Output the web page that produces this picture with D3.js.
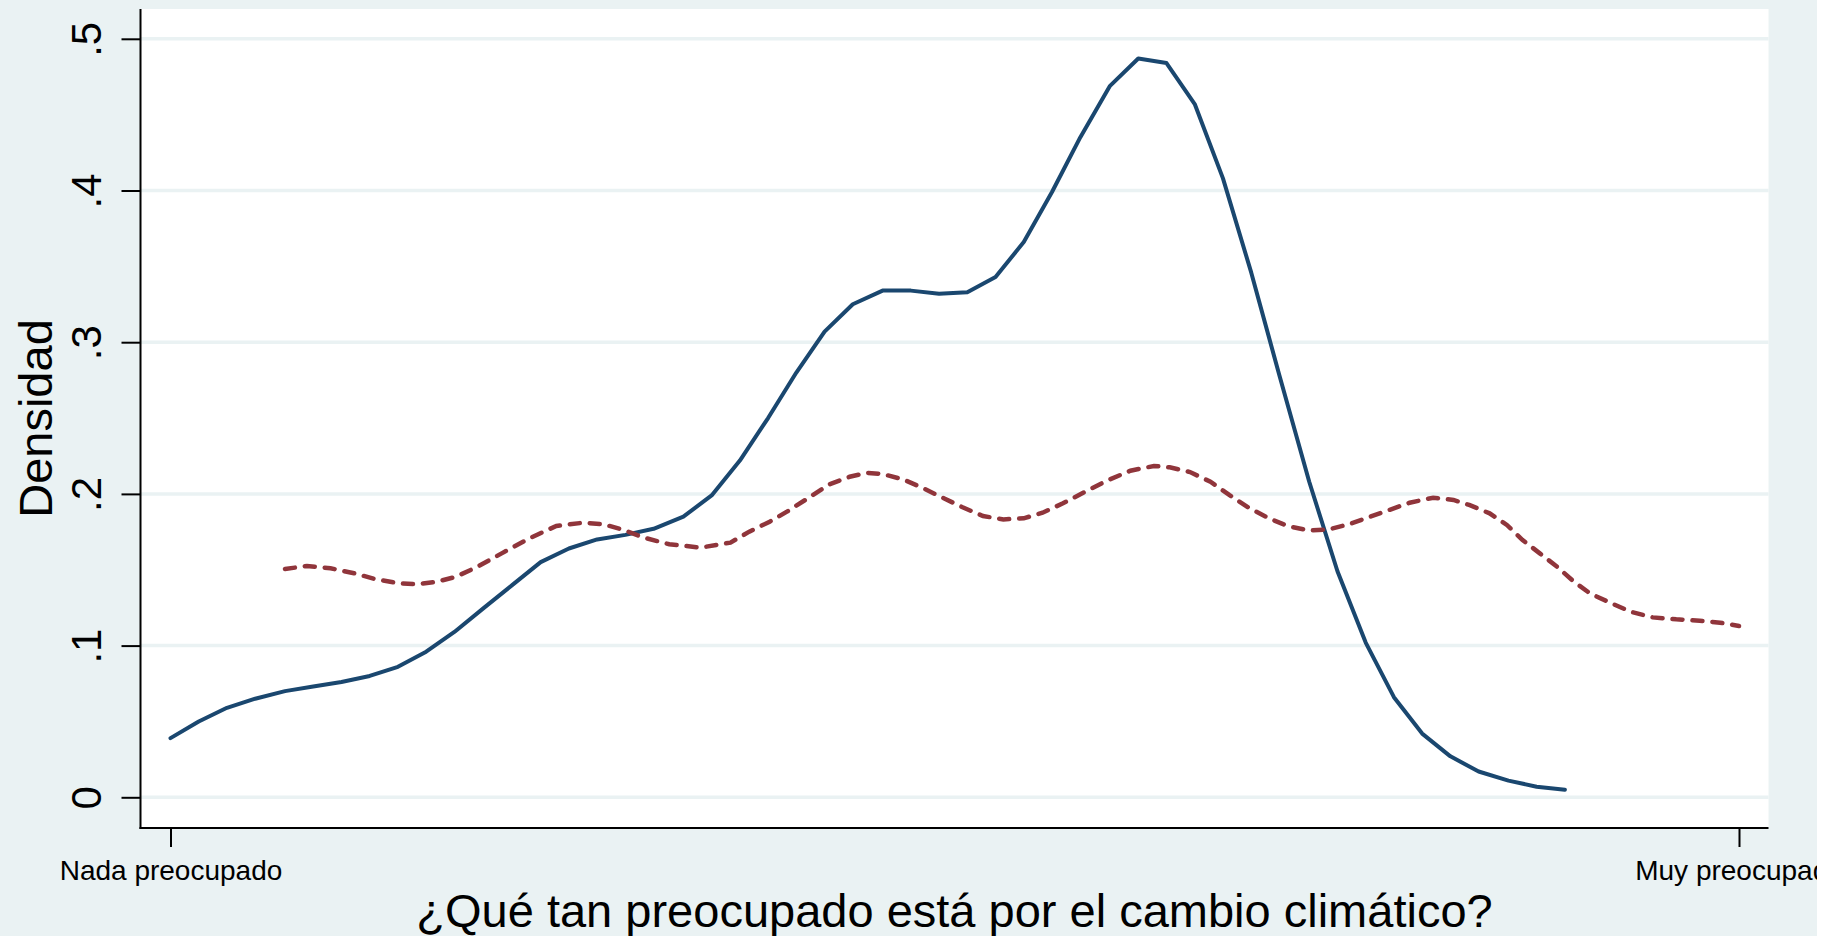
<!doctype html>
<html>
<head>
<meta charset="utf-8">
<title>Densidad - preocupación por el cambio climático</title>
<script src="https://cdn.jsdelivr.net/npm/d3@7"></script>
<style>
  html, body { margin: 0; padding: 0; background: #ffffff; }
  svg { display: block; font-family: "Liberation Sans", Arial, Helvetica, sans-serif; }
</style>
</head>
<body>
<div class="chart"></div>

<script>
  // eje y
  const yTicks = [0, 0.1, 0.2, 0.3, 0.4, 0.5]
  const yTickLabels = ['0', '.1', '.2', '.3', '.4', '.5']

  // eje x: solo los extremos de la escala tienen etiqueta
  const xTicks = [0, 10]
  const xTickLabels = ['Nada preocupado', 'Muy preocupado']

  // curva sólida (azul)
  const serieAX = [0, 0.18, 0.36, 0.54, 0.73, 0.91, 1.09, 1.27, 1.45, 1.63,
    1.81, 2.00, 2.18, 2.36, 2.54, 2.72, 2.90, 3.08, 3.27, 3.45,
    3.63, 3.81, 3.99, 4.17, 4.35, 4.54, 4.72, 4.90, 5.08, 5.26,
    5.44, 5.62, 5.80, 5.99, 6.17, 6.35, 6.53, 6.71, 6.89, 7.07,
    7.26, 7.44, 7.62, 7.80, 7.98, 8.16, 8.34, 8.53, 8.71, 8.89]
  const serieAY = [0.039, 0.050, 0.059, 0.065, 0.070, 0.073, 0.076, 0.080, 0.086, 0.096,
    0.109, 0.125, 0.140, 0.155, 0.164, 0.170, 0.173, 0.177, 0.185, 0.199,
    0.222, 0.250, 0.280, 0.307, 0.325, 0.334, 0.334, 0.332, 0.333, 0.343,
    0.366, 0.399, 0.435, 0.469, 0.487, 0.484, 0.457, 0.408, 0.346, 0.278,
    0.208, 0.149, 0.102, 0.066, 0.042, 0.027, 0.017, 0.011, 0.007, 0.005]

  // curva punteada (roja)
  const serieBX = [0.73, 0.87, 1.02, 1.17, 1.31, 1.46, 1.57, 1.70, 1.82, 1.95,
    2.12, 2.29, 2.46, 2.63, 2.76, 2.89, 3.01, 3.18, 3.38, 3.57,
    3.69, 3.82, 3.93, 4.08, 4.20, 4.33, 4.44, 4.54, 4.67, 4.80,
    4.93, 5.05, 5.18, 5.31, 5.44, 5.56, 5.69, 5.84, 5.97, 6.12,
    6.27, 6.37, 6.50, 6.63, 6.75, 6.88, 7.01, 7.12, 7.26, 7.39,
    7.52, 7.65, 7.77, 7.90, 8.05, 8.18, 8.28, 8.41, 8.52, 8.62,
    8.73, 8.84, 8.94, 9.05, 9.18, 9.31, 9.45, 9.60, 9.75, 9.88, 10.0]
  const serieBY = [0.1505, 0.1525, 0.1510, 0.1477, 0.1437, 0.1410, 0.1404, 0.1421, 0.1454, 0.1516,
    0.1613, 0.1708, 0.1789, 0.1810, 0.1800, 0.1762, 0.1714, 0.1668, 0.1646, 0.1679,
    0.1751, 0.1817, 0.1883, 0.1982, 0.2063, 0.2113, 0.2139, 0.2131, 0.2096, 0.2037,
    0.1971, 0.1912, 0.1854, 0.1832, 0.1839, 0.1876, 0.1938, 0.2019, 0.2087, 0.2153,
    0.2184, 0.2175, 0.2144, 0.2080, 0.1993, 0.1905, 0.1836, 0.1789, 0.1758, 0.1767,
    0.1802, 0.1850, 0.1894, 0.1942, 0.1975, 0.1960, 0.1927, 0.1872, 0.1795, 0.1696,
    0.1608, 0.1520, 0.1428, 0.1344, 0.1282, 0.1223, 0.1186, 0.1173, 0.1164, 0.1151, 0.1129]

  const width = 1817, height = 936
  const plot = { left: 140.5, right: 1768.5, top: 9, bottom: 828 }
  const bg = '#eaf2f3'

  const svg = d3.select('.chart')
    .append('svg')
    .attr('width', width)
    .attr('height', height)
    .style('background-color', bg)

  const x = d3.scaleLinear().domain([0, 10]).range([170.5, 1739])
  const y = d3.scaleLinear().domain([0, 0.5]).range([797.3, 38.8])

  // región del gráfico
  svg.append('rect')
    .attr('x', plot.left)
    .attr('y', plot.top)
    .attr('width', plot.right - plot.left)
    .attr('height', plot.bottom - plot.top)
    .attr('fill', '#ffffff')

  // líneas de cuadrícula
  svg.append('g')
    .selectAll('line')
    .data(yTicks)
    .enter()
    .append('line')
    .attr('x1', plot.left)
    .attr('x2', plot.right)
    .attr('y1', d => y(d))
    .attr('y2', d => y(d))
    .attr('stroke', bg)
    .attr('stroke-width', 3.5)

  // eje y
  const yAxis = svg.append('g')
    .attr('transform', `translate(${plot.left},0)`)
    .call(d3.axisLeft(y).tickValues(yTicks).tickSize(19).tickPadding(0).tickFormat((d, i) => yTickLabels[i]))
  yAxis.select('.domain').remove()
  yAxis.selectAll('.tick line').attr('stroke', '#000').attr('stroke-width', 2)
  yAxis.selectAll('.tick text')
    .attr('x', null).attr('dy', null)
    .attr('transform', 'translate(-40,0) rotate(-90)')
    .attr('text-anchor', 'middle')
    .attr('font-size', 42)
    .attr('fill', '#000')

  svg.append('line')
    .attr('x1', plot.left).attr('x2', plot.left)
    .attr('y1', plot.top).attr('y2', plot.bottom + 1)
    .attr('stroke', '#000').attr('stroke-width', 2)

  // eje x
  const xAxis = svg.append('g')
    .attr('transform', `translate(0,${plot.bottom})`)
    .call(d3.axisBottom(x).tickValues(xTicks).tickSize(19).tickPadding(0).tickFormat((d, i) => xTickLabels[i]))
  xAxis.select('.domain').remove()
  xAxis.selectAll('.tick line').attr('stroke', '#000').attr('stroke-width', 2)
  xAxis.selectAll('.tick text')
    .attr('y', 52).attr('dy', null)
    .attr('font-size', 28)
    .attr('fill', '#000')

  svg.append('line')
    .attr('x1', plot.left - 1).attr('x2', plot.right)
    .attr('y1', plot.bottom).attr('y2', plot.bottom)
    .attr('stroke', '#000').attr('stroke-width', 2)

  // títulos de ejes
  svg.append('text')
    .attr('transform', `translate(52,${(plot.top + plot.bottom) / 2}) rotate(-90)`)
    .attr('text-anchor', 'middle')
    .attr('font-size', 47)
    .text('Densidad')

  svg.append('text')
    .attr('x', (plot.left + plot.right) / 2)
    .attr('y', 927)
    .attr('text-anchor', 'middle')
    .attr('font-size', 47)
    .text('¿Qué tan preocupado está por el cambio climático?')

  // curvas de densidad
  const line = d3.line()
    .x(d => x(d[0]))
    .y(d => y(d[1]))

  const puntosA = serieAX.map((v, i) => [v, serieAY[i]])
  const puntosB = serieBX.map((v, i) => [v, serieBY[i]])

  svg.append('path')
    .attr('d', line(puntosA))
    .attr('fill', 'none')
    .attr('stroke', '#1a476f')
    .attr('stroke-width', 4)
    .attr('stroke-linejoin', 'round')
    .attr('stroke-linecap', 'round')

  svg.append('path')
    .attr('d', line(puntosB))
    .attr('fill', 'none')
    .attr('stroke', '#90353b')
    .attr('stroke-width', 4.5)
    .attr('stroke-dasharray', '10 10')
    .attr('stroke-linecap', 'round')
</script>
</body>
</html>
